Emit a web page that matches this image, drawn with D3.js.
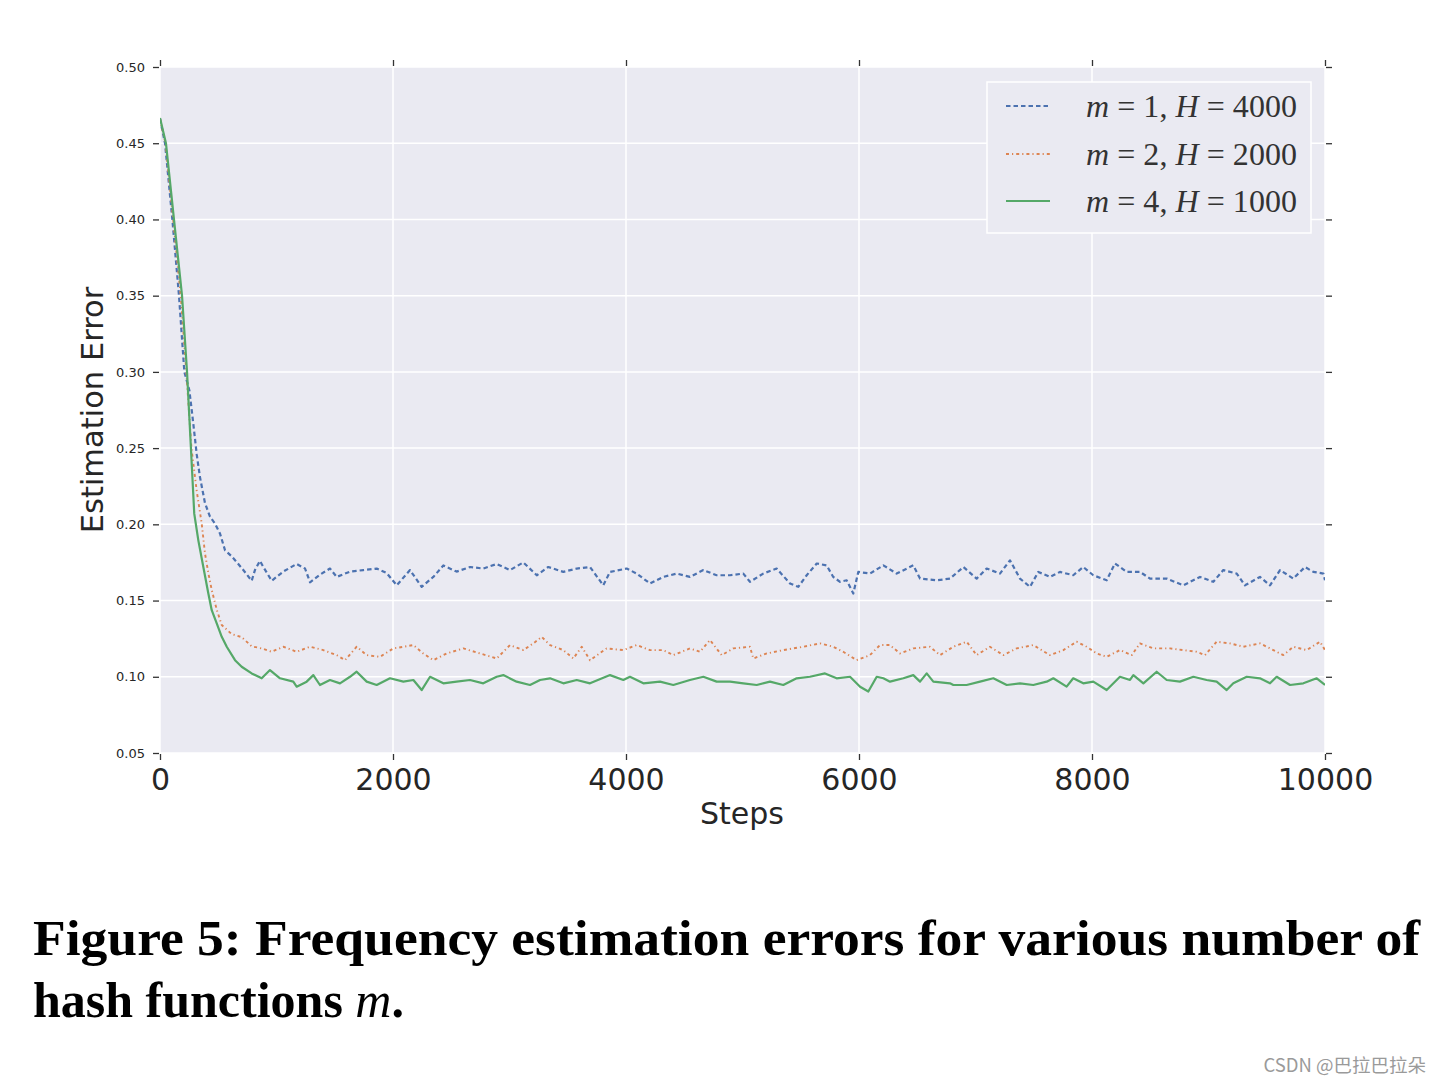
<!DOCTYPE html>
<html>
<head>
<meta charset="utf-8">
<script src="https://cdn.jsdelivr.net/npm/d3@7"></script>
<style>
  html, body { margin: 0; padding: 0; background: #ffffff; }
  svg { display: block; }
</style>
</head>
<body>
<svg id="chart" width="1442" height="1084"></svg>
<script>
// ---------------- data ----------------
const xTicks = [0, 2000, 4000, 6000, 8000, 10000];
const yTicks = [0.05, 0.10, 0.15, 0.20, 0.25, 0.30, 0.35, 0.40, 0.45, 0.50];
const seriesLabels = ["m = 1, H = 4000", "m = 2, H = 2000", "m = 4, H = 1000"];

const seriesM1 = [[0,0.466],[43,0.45],[106,0.40],[163,0.35],[209,0.30],[252,0.288],[286,0.266],[315,0.246],[343,0.231],[386,0.214],[429,0.205],[472,0.2005],[515,0.194],[558,0.183],[615,0.179],[672,0.174],[715,0.170],[787,0.163],[815,0.170],[858,0.176],[887,0.172],[959,0.163],[1058,0.169],[1173,0.174],[1245,0.171],[1288,0.162],[1373,0.167],[1459,0.171],[1517,0.1655],[1631,0.169],[1745,0.170],[1860,0.171],[1946,0.168],[2032,0.160],[2146,0.170],[2246,0.159],[2346,0.1655],[2432,0.173],[2546,0.169],[2661,0.172],[2775,0.171],[2890,0.174],[3004,0.170],[3119,0.175],[3234,0.1666],[3333,0.172],[3462,0.1688],[3577,0.171],[3691,0.172],[3805,0.160],[3863,0.1688],[4006,0.171],[4092,0.1677],[4206,0.1612],[4320,0.1655],[4435,0.1677],[4549,0.1655],[4664,0.170],[4778,0.1666],[4893,0.1666],[5007,0.1677],[5064,0.1623],[5178,0.1677],[5293,0.171],[5408,0.1612],[5479,0.159],[5551,0.1666],[5637,0.1743],[5722,0.1731],[5779,0.1655],[5837,0.1623],[5894,0.1633],[5951,0.1546],[5994,0.1688],[6094,0.1677],[6209,0.1731],[6323,0.1677],[6466,0.1731],[6524,0.1644],[6667,0.1633],[6781,0.1644],[6896,0.172],[7010,0.1644],[7096,0.171],[7210,0.1677],[7296,0.1764],[7382,0.1644],[7468,0.159],[7539,0.1688],[7639,0.1655],[7725,0.1688],[7839,0.1666],[7925,0.172],[8011,0.1666],[8126,0.1633],[8197,0.1743],[8298,0.1688],[8412,0.1688],[8498,0.1644],[8641,0.1644],[8784,0.160],[8927,0.1655],[9041,0.1623],[9127,0.170],[9242,0.1677],[9313,0.160],[9442,0.1655],[9528,0.160],[9614,0.170],[9728,0.1644],[9828,0.172],[9900,0.1688],[9986,0.1677],[10000,0.1633]];

const seriesM2 = [[0,0.466],[47,0.45],[113,0.40],[178,0.35],[226,0.30],[270,0.25],[315,0.222],[358,0.2005],[386,0.181],[415,0.168],[444,0.157],[487,0.144],[530,0.134],[615,0.128],[701,0.126],[787,0.120],[873,0.1186],[959,0.1164],[1058,0.1197],[1173,0.1164],[1288,0.1197],[1402,0.1175],[1517,0.1142],[1588,0.1109],[1688,0.1197],[1774,0.1142],[1888,0.1131],[2003,0.1186],[2175,0.1208],[2260,0.1153],[2346,0.1109],[2461,0.1153],[2604,0.1186],[2747,0.1153],[2890,0.112],[3004,0.1208],[3119,0.1175],[3205,0.1219],[3276,0.1262],[3348,0.1208],[3462,0.1175],[3548,0.112],[3620,0.1197],[3691,0.1109],[3834,0.1186],[3977,0.1175],[4092,0.1208],[4206,0.1175],[4320,0.1175],[4406,0.1142],[4549,0.1186],[4635,0.1164],[4721,0.1241],[4821,0.1142],[4921,0.1186],[5064,0.1197],[5093,0.112],[5208,0.1153],[5350,0.1175],[5522,0.1197],[5665,0.1219],[5779,0.1197],[5865,0.1164],[5980,0.1109],[6094,0.1142],[6180,0.1208],[6266,0.1208],[6352,0.1153],[6466,0.1186],[6609,0.1197],[6695,0.1142],[6810,0.1197],[6924,0.123],[7010,0.1142],[7124,0.1197],[7239,0.1142],[7353,0.1186],[7496,0.1208],[7639,0.1142],[7754,0.1175],[7868,0.123],[7954,0.1197],[8040,0.1153],[8126,0.1131],[8240,0.1175],[8341,0.1142],[8412,0.1219],[8526,0.1186],[8670,0.1186],[8784,0.1175],[8898,0.1164],[8970,0.1142],[9070,0.123],[9185,0.1219],[9299,0.1197],[9442,0.1219],[9557,0.1175],[9642,0.1142],[9728,0.1197],[9843,0.1175],[9957,0.123],[10000,0.1175]];

const seriesM4 = [[0,0.4666],[51,0.45],[120,0.40],[189,0.35],[232,0.30],[265,0.2506],[294,0.207],[329,0.1895],[372,0.172],[415,0.1546],[444,0.1437],[487,0.135],[530,0.1262],[573,0.1197],[644,0.1109],[701,0.1066],[787,0.1022],[873,0.099],[944,0.1044],[1030,0.099],[1144,0.0968],[1173,0.0935],[1259,0.0968],[1316,0.1011],[1373,0.0946],[1459,0.0979],[1545,0.0957],[1631,0.1],[1688,0.1033],[1774,0.0968],[1860,0.0946],[1974,0.099],[2089,0.0968],[2175,0.0979],[2246,0.0913],[2318,0.1],[2432,0.0957],[2546,0.0968],[2661,0.0979],[2775,0.0957],[2890,0.1],[2947,0.1011],[3061,0.0968],[3176,0.0946],[3262,0.0979],[3348,0.099],[3462,0.0957],[3577,0.0979],[3691,0.0957],[3863,0.1011],[3977,0.0979],[4034,0.1],[4149,0.0957],[4292,0.0968],[4406,0.0946],[4549,0.0979],[4664,0.1],[4778,0.0968],[4893,0.0968],[5007,0.0957],[5122,0.0946],[5236,0.0968],[5350,0.0946],[5465,0.099],[5579,0.1],[5708,0.1022],[5808,0.099],[5923,0.1],[6009,0.0935],[6080,0.0903],[6152,0.1],[6209,0.099],[6266,0.0968],[6381,0.099],[6466,0.1011],[6524,0.0968],[6581,0.1022],[6638,0.0968],[6781,0.0957],[6810,0.0946],[6924,0.0946],[7039,0.0968],[7153,0.099],[7268,0.0946],[7382,0.0957],[7496,0.0946],[7611,0.0968],[7668,0.099],[7782,0.0935],[7839,0.099],[7925,0.0957],[8011,0.0968],[8126,0.0913],[8240,0.1],[8326,0.0979],[8355,0.1011],[8441,0.0957],[8555,0.1033],[8641,0.0979],[8755,0.0968],[8870,0.1],[8984,0.0979],[9070,0.0968],[9156,0.0913],[9213,0.0957],[9328,0.1],[9442,0.099],[9528,0.0957],[9585,0.1],[9700,0.0946],[9814,0.0957],[9929,0.099],[10000,0.0946]];

const captionLines = ["Figure 5: Frequency estimation errors for various number of", "hash functions "];
const xLabel = "Steps";
const yLabel = "Estimation Error";
const watermark = "CSDN @巴拉巴拉朵";

// ---------------- layout ----------------
const svg = d3.select("#chart");
const plot = { left: 160, right: 1325, top: 67, bottom: 753 };
const bg = "#EAEAF2";
const textColor = "#262626";
const colors = ["#4C72B0", "#DD8452", "#55A868"];
const dashes = ["4.5,3", "3,3,1.2,3", null];

const x = d3.scaleLinear().domain([0, 10000]).range([plot.left, plot.right]);
const y = d3.scaleLinear().domain([0.05, 0.50]).range([plot.bottom, plot.top]);

svg.append("rect").attr("x", 0).attr("y", 0).attr("width", 1442).attr("height", 1084).attr("fill", "#fff");
svg.append("rect")
  .attr("x", plot.left).attr("y", plot.top)
  .attr("width", plot.right - plot.left).attr("height", plot.bottom - plot.top)
  .attr("fill", bg);

// grid
const grid = svg.append("g");
grid.selectAll("line.gx").data(xTicks).join("line")
  .attr("x1", d => x(d)).attr("x2", d => x(d))
  .attr("y1", plot.top).attr("y2", plot.bottom)
  .attr("stroke", "#fff").attr("stroke-width", 1.5);
grid.selectAll("line.gy").data(yTicks).join("line")
  .attr("y1", d => y(d)).attr("y2", d => y(d))
  .attr("x1", plot.left).attr("x2", plot.right)
  .attr("stroke", "#fff").attr("stroke-width", 1.5);

// axes
function styleAxis(g, fontSize) {
  g.select(".domain").remove();
  g.selectAll(".tick line").attr("stroke", "#333").attr("stroke-width", 1.3);
  g.selectAll(".tick text").attr("fill", textColor)
    .attr("font-family", "DejaVu Sans").attr("font-size", fontSize);
}
svg.append("g").attr("transform", `translate(${plot.left - 1},0)`)
  .call(d3.axisLeft(y).tickValues(yTicks).tickSize(6).tickPadding(8).tickFormat(d3.format(".2f")))
  .call(g => styleAxis(g, 13));
svg.append("g").attr("transform", `translate(${plot.right + 1},0)`)
  .call(d3.axisRight(y).tickValues(yTicks).tickSize(6).tickFormat(""))
  .call(g => styleAxis(g, 13));
svg.append("g").attr("transform", `translate(0,${plot.bottom + 1})`)
  .call(d3.axisBottom(x).tickValues(xTicks).tickSize(6).tickPadding(9).tickFormat(d3.format("d")))
  .call(g => styleAxis(g, 30));
svg.append("g").attr("transform", `translate(0,${plot.top - 1})`)
  .call(d3.axisTop(x).tickValues(xTicks).tickSize(6).tickFormat(""))
  .call(g => styleAxis(g, 13));

// axis labels
svg.append("text").attr("x", 742).attr("y", 824).attr("text-anchor", "middle")
  .attr("font-family", "DejaVu Sans").attr("font-size", 30).attr("fill", textColor).text(xLabel);
svg.append("text").attr("transform", "translate(103,410) rotate(-90)").attr("text-anchor", "middle")
  .attr("font-family", "DejaVu Sans").attr("font-size", 30.5).attr("fill", textColor).text(yLabel);

// lines
svg.append("clipPath").attr("id", "clip").append("rect")
  .attr("x", plot.left).attr("y", plot.top).attr("width", plot.right - plot.left).attr("height", plot.bottom - plot.top);
const line = d3.line().x(d => x(d[0])).y(d => y(d[1]));
const allSeries = [seriesM1, seriesM2, seriesM4];
svg.append("g").attr("clip-path", "url(#clip)")
  .selectAll("path").data(allSeries).join("path")
  .attr("d", line)
  .attr("fill", "none")
  .attr("stroke", (d, i) => colors[i])
  .attr("stroke-width", (d, i) => i === 1 ? 1.9 : 2.2)
  .attr("stroke-linejoin", "round")
  .attr("stroke-dasharray", (d, i) => dashes[i]);

// legend
const lg = svg.append("g");
lg.append("rect").attr("x", 987).attr("y", 82).attr("width", 324).attr("height", 151)
  .attr("fill", bg).attr("stroke", "#fff").attr("stroke-width", 1.5);
const rowY = [106, 154, 201];
seriesLabels.forEach((lab, i) => {
  lg.append("line").attr("x1", 1006).attr("x2", 1050).attr("y1", rowY[i]).attr("y2", rowY[i])
    .attr("stroke", colors[i]).attr("stroke-width", 2).attr("stroke-dasharray", dashes[i]);
  const parts = lab.split(/(m|H)/).filter(s => s.length);
  const t = lg.append("text").attr("x", 1086).attr("y", rowY[i] + 11)
    .attr("font-family", "Liberation Serif").attr("font-size", 32).attr("fill", "#333")
    .attr("textLength", 211).attr("lengthAdjust", "spacing");
  parts.forEach(p => {
    t.append("tspan").attr("font-style", (p === "m" || p === "H") ? "italic" : "normal").text(p);
  });
});

// caption
svg.append("text").attr("x", 33).attr("y", 955)
  .attr("font-family", "Liberation Serif").attr("font-weight", "bold").attr("font-size", 50)
  .attr("fill", "#000").attr("textLength", 1387).attr("lengthAdjust", "spacingAndGlyphs")
  .text(captionLines[0]);
const cap2 = svg.append("text").attr("x", 33).attr("y", 1017)
  .attr("font-family", "Liberation Serif").attr("font-weight", "bold").attr("font-size", 50)
  .attr("fill", "#000");
cap2.append("tspan").text(captionLines[1]);
cap2.append("tspan").attr("font-style", "italic").attr("font-weight", "normal").text("m");
cap2.append("tspan").text(".");

// watermark
svg.append("text").attr("x", 1426).attr("y", 1072).attr("text-anchor", "end")
  .attr("font-family", "Noto Sans CJK SC").attr("font-size", 18.5).attr("fill", "#9a9a9a")
  .text(watermark);
</script>
</body>
</html>
